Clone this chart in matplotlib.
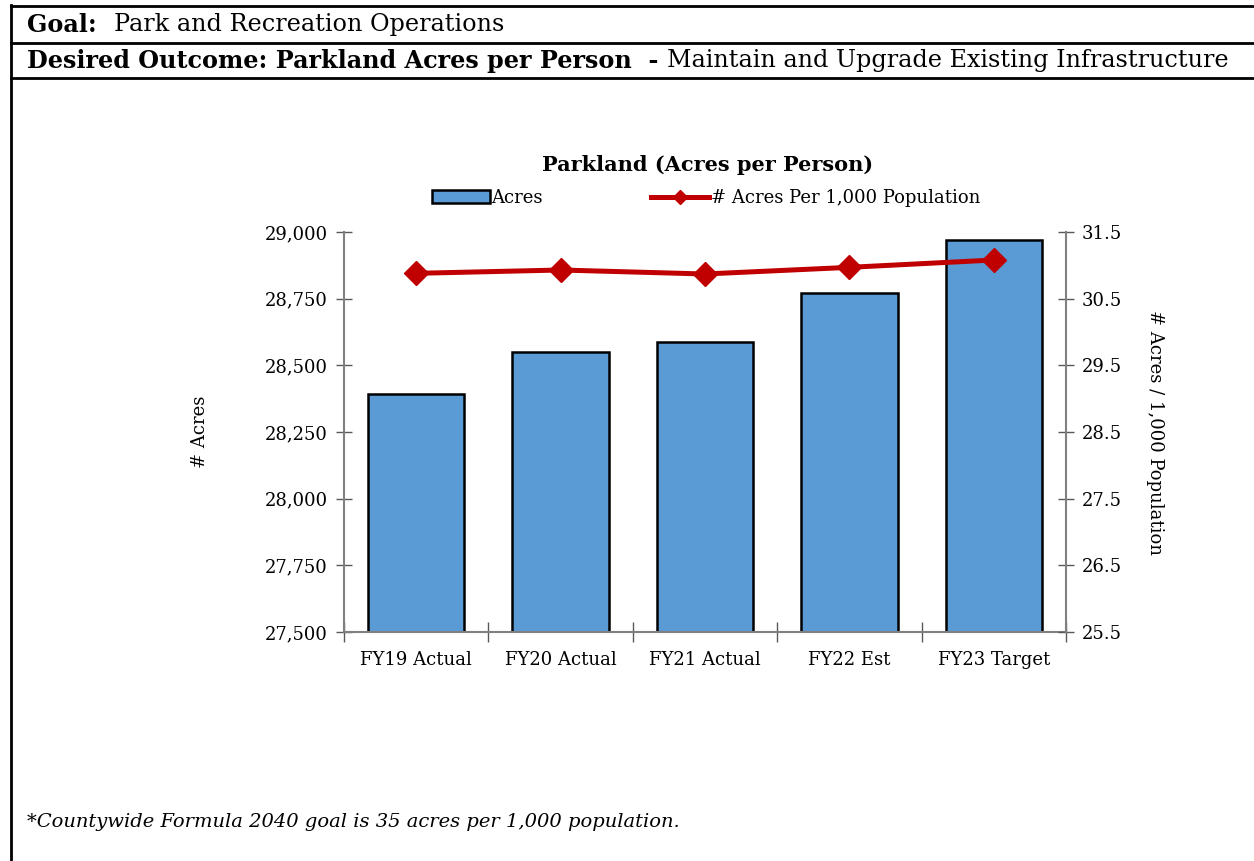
import matplotlib
matplotlib.use("Agg")
import matplotlib.pyplot as plt
from matplotlib.lines import Line2D
from matplotlib.patches import Patch
from matplotlib.ticker import FuncFormatter

plt.rcParams['font.family'] = ['DejaVu Serif']

# chart data
categories = ['FY19 Actual', 'FY20 Actual', 'FY21 Actual', 'FY22 Est', 'FY23 Target']
acres = [28392, 28550, 28587, 28771, 28970]
acres_per_1000 = [30.88, 30.93, 30.87, 30.97, 31.08]

left_ticks = [27500, 27750, 28000, 28250, 28500, 28750, 29000]
right_ticks = [25.5, 26.5, 27.5, 28.5, 29.5, 30.5, 31.5]

W, H = 1254, 861
fig = plt.figure(figsize=(W / 100, H / 100), dpi=100)

# frame of the table around the chart
def hline(y, x0=11, x1=W):
    fig.add_artist(Line2D([x0 / W, x1 / W], [1 - y / H, 1 - y / H], color='black', lw=2))

hline(6)
hline(43)
hline(78)
fig.add_artist(Line2D([11 / W, 11 / W], [1 - 5 / H, 0], color='black', lw=2))

# header texts (bold part followed by normal part)
renderer = fig.canvas.get_renderer()

def two_part(x, y, bold, normal, size):
    t = fig.text(x / W, 1 - y / H, bold, fontsize=size, fontweight='bold', va='center', ha='left')
    bb = t.get_window_extent(renderer)
    fig.text(bb.x1 / W, 1 - y / H, normal, fontsize=size, va='center', ha='left')

two_part(27, 25, 'Goal:  ', 'Park and Recreation Operations', 17.2)
two_part(27, 61, 'Desired Outcome: Parkland Acres per Person  - ', 'Maintain and Upgrade Existing Infrastructure', 17.2)

fig.text(27 / W, 1 - 822 / H, '*Countywide Formula 2040 goal is 35 acres per 1,000 population.',
         fontsize=14, style='italic', va='center', ha='left')

# chart
ax = fig.add_axes([344 / W, 1 - 632 / H, (1066 - 344) / W, (632 - 232) / H])
x = list(range(len(categories)))
ax.bar(x, acres, width=0.667, color='#5B9BD5', edgecolor='black', linewidth=1.8, zorder=2)
ax.set_xlim(-0.5, len(categories) - 0.5)
ax.set_ylim(27500, 29000)
ax.set_yticks(left_ticks)
ax.yaxis.set_major_formatter(FuncFormatter(lambda v, p: f'{v:,.0f}'))
ax.set_xticks(x)
ax.set_xticklabels(categories)
ax.set_xticks([i - 0.5 for i in range(len(categories) + 1)], minor=True)
ax.tick_params(axis='x', which='major', length=0, pad=14, labelsize=13)
ax.tick_params(axis='x', which='minor', length=14, direction='inout', color='#595959', width=1)
ax.tick_params(axis='y', length=11, direction='inout', color='#595959', width=1, labelsize=13, pad=6)
for s in ['top', 'right']:
    ax.spines[s].set_visible(False)
for s in ['left', 'bottom']:
    ax.spines[s].set_color('#808080')
    ax.spines[s].set_linewidth(1.5)
ax.set_ylabel('# Acres', fontsize=13, labelpad=40)

ax2 = ax.twinx()
ax2.plot(x, acres_per_1000, color='#C00000', lw=3.6, marker='D', markersize=12, zorder=3)
ax2.set_ylim(25.5, 31.5)
ax2.set_yticks(right_ticks)
ax2.yaxis.set_major_formatter(FuncFormatter(lambda v, p: f'{v:.1f}'))
ax2.tick_params(axis='y', length=11, direction='inout', color='#595959', width=1, labelsize=13, pad=6)
for s in ['top', 'left', 'bottom']:
    ax2.spines[s].set_visible(False)
ax2.spines['right'].set_color('#808080')
ax2.spines['right'].set_linewidth(1.5)
ax2.set_ylabel('# Acres / 1,000 Population', fontsize=13, rotation=270, labelpad=30)

fig.text(708 / W, 1 - 165 / H, 'Parkland (Acres per Person)', fontsize=15, fontweight='bold',
         ha='center', va='center')

handles = [Patch(facecolor='#5B9BD5', edgecolor='black', linewidth=1.8, label='Acres'),
           Line2D([], [], color='#C00000', lw=3.6, marker='D', markersize=7,
                  label='# Acres Per 1,000 Population')]
fig.legend(handles=handles, loc='center', bbox_to_anchor=(706 / W, 1 - 198 / H), ncol=2,
           frameon=False, fontsize=13, handlelength=3.2, handletextpad=0.1, columnspacing=6)

fig.savefig('out.png', dpi=100)
